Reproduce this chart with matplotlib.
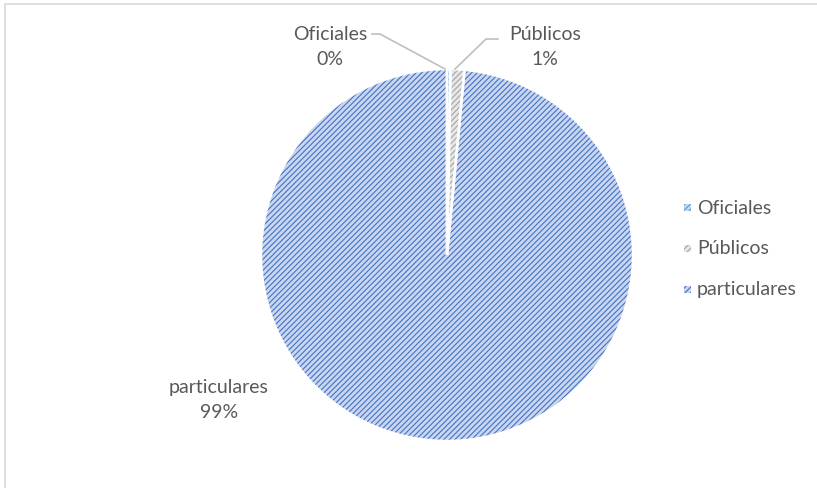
import matplotlib.pyplot as plt
from matplotlib.patches import Rectangle

# data
labels = ["Oficiales", "Públicos", "particulares"]
values = [0.3, 1.2, 98.5]
pct_labels = ["0%", "1%", "99%"]

face_colors = ["#BDD7EE", "#E7E7E7", "#C9D6F0"]
hatch_colors = ["#5B9BD5", "#A5A5A5", "#4472C4"]

plt.rcParams["font.family"] = ["Lato", "DejaVu Sans"]
plt.rcParams["hatch.linewidth"] = 0.8
txt_color = "#595959"

W, H = 817, 489
fig = plt.figure(figsize=(W / 100, H / 100), dpi=100)

# chart border
fig.patches.append(Rectangle((5 / W, -0.1), 1.1, (H - 5) / H + 0.1, transform=fig.transFigure,
                             fill=False, edgecolor="#D9D9D9", linewidth=1.2))

cx, cy, r = 447, 256, 186
ax = fig.add_axes([(cx - r) / W, (H - cy - r) / H, 2 * r / W, 2 * r / H])

wedges, _ = ax.pie(values, startangle=90, counterclock=False, radius=1,
                   wedgeprops=dict(linewidth=0))
for w, fc, hc in zip(wedges, face_colors, hatch_colors):
    w.set_facecolor(fc)
    w.set_edgecolor(hc)
    w.set_hatch("//////")
# white separators
ax.pie(values, startangle=90, counterclock=False, radius=1,
       wedgeprops=dict(facecolor="none", edgecolor="white", linewidth=1.8))
ax.set_xlim(-1, 1)
ax.set_ylim(-1, 1)
ax.set_aspect("equal")
ax.axis("off")


def px(x, y):
    return x / W, 1 - y / H


# data labels
fs = 14
x, y = px(330, 47)
fig.text(x, y, labels[0] + "\n" + pct_labels[0], ha="center", va="center",
         fontsize=fs, color=txt_color, linespacing=1.6)
x, y = px(545, 47)
fig.text(x, y, labels[1] + "\n" + pct_labels[1], ha="center", va="center",
         fontsize=fs, color=txt_color, linespacing=1.6)
x, y = px(219, 400)
fig.text(x, y, labels[2] + "\n" + pct_labels[2], ha="center", va="center",
         fontsize=fs, color=txt_color, linespacing=1.6)

# leader lines
for pts in ([(372, 35), (380, 35), (445, 70)], [(498, 40), (486, 40), (455, 70)]):
    xs = [p[0] / W for p in pts]
    ys = [1 - p[1] / H for p in pts]
    fig.add_artist(plt.Line2D(xs, ys, transform=fig.transFigure, color="#BFBFBF", linewidth=1.2))

# legend
leg_y = [208, 249, 290]
for lab, fc, hc, ly in zip(labels, face_colors, hatch_colors, leg_y):
    x, y = px(687, ly)
    sq = Rectangle((x - 3.5 / W, y - 3.5 / H), 7 / W, 7 / H, transform=fig.transFigure,
                   facecolor=fc, edgecolor=hc, linewidth=0, hatch="//////")
    fig.patches.append(sq)
    fig.text(x + 10 / W, y, lab, ha="left", va="center", fontsize=fs, color=txt_color)

fig.savefig("out.png", dpi=100)
